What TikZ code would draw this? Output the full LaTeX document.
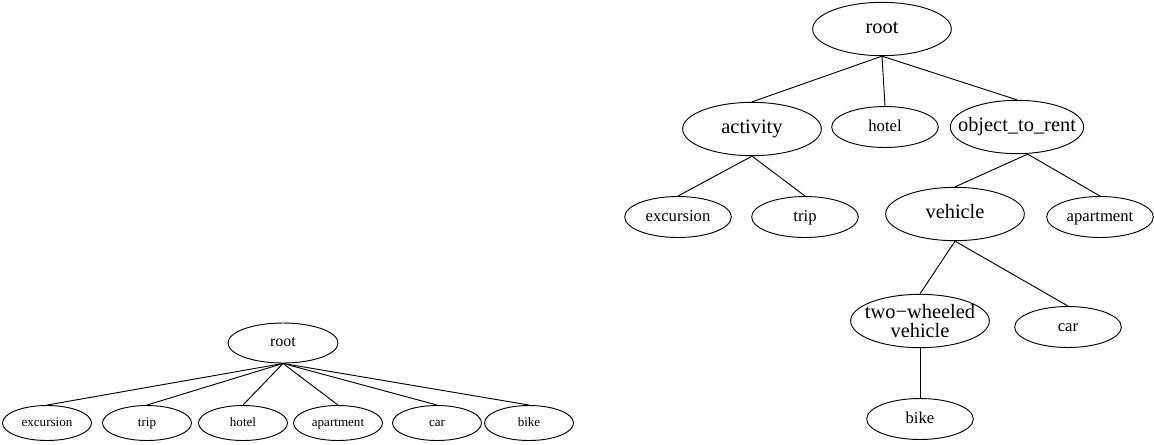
\documentclass[tikz,border=0pt]{standalone}
\usepackage{fontspec}
\setmainfont{Liberation Serif}
\usetikzlibrary{shapes.geometric}
\newcommand{\nodetext}[1]{\makebox[0pt]{\strut#1}}
\tikzset{
    concept/.style = {ellipse,
                    fill=white,
                    draw=black,
                    text=black,
                    inner sep=0pt,
                    minimum width=104pt,
                    minimum height=40pt,
                    font=\fontsize{15.3}{18}\selectfont},
    leaf/.style =   {ellipse,
                    fill=white,
                    draw=black,
                    text=black,
                    inner sep=0pt,
                    minimum width=80pt,
                    minimum height=30.75pt,
                    font=\fontsize{12.5}{15}\selectfont},
    -,
    flatroot/.style = {ellipse,
                    fill=white,
                    draw=black,
                    text=black,
                    inner sep=0pt,
                    minimum width=82.5pt,
                    minimum height=30pt,
                    font=\fontsize{12}{14}\selectfont},
    flatleaf/.style = {ellipse,
                    fill=white,
                    draw=black,
                    text=black,
                    inner sep=0pt,
                    minimum width=66.75pt,
                    minimum height=26.25pt,
                    font=\fontsize{9.8}{12}\selectfont},
    -,
    draw=black}

\begin{document}
\begin{tikzpicture}[x=0.75pt,y=-0.75pt,line width=0.7pt]
                \useasboundingbox (0,0) rectangle (1154,444);
                % taxonomy
                \node[concept]      (root)  at (882,29)     {\nodetext{root}};
                \node[concept]      (act)   at (752,129)    {\nodetext{activity}};
                \node[leaf]         (hotel) at (885,127)    {\nodetext{hotel}};
                \node[concept]      (obj)   [minimum width=100pt] at (1017,127) {\nodetext{object\_to\_rent}};
                \node[leaf]         (exc)   at (678,217)    {\nodetext{excursion}};
                \node[leaf]         (trip)  at (805,217)    {\nodetext{trip}};
                \node[concept]      (veh)   at (955,214)    {\nodetext{vehicle}};
                \node[leaf]         (apt)   at (1100,217)   {\nodetext{apartment}};
                \node[concept]      (twv)   at (920,321)    {\makebox[0pt]{\shortstack{two−wheeled\\vehicle}}};
                \node[leaf]         (car)   at (1068,327)   {\nodetext{car}};
                \node[leaf]         (bike)  at (920,419)    {\nodetext{bike}};
                \path   (root.south)    edge    (act.north)
                        (root.south)    edge    (hotel.north)
                        (root.south)    edge    (obj.north)
                        (act.south)     edge    (exc.north)
                        (act.south)     edge    (trip.north)
                        ([xshift=8pt]obj.south) edge (veh.north)
                        ([xshift=8pt]obj.south) edge (apt.north)
                        (veh.south)     edge    (twv.north)
                        (veh.south)     edge    (car.north)
                        (twv.south)     edge    (bike.north);
                % flat
                \node[flatroot]     (froot)  at (283,343)   {\nodetext{root}};
                \node[flatleaf]     (fexc)   at (47,423)    {\nodetext{excursion}};
                \node[flatleaf]     (ftrip)  at (147,423)   {\nodetext{trip}};
                \node[flatleaf]     (fhotel) at (243,423)   {\nodetext{hotel}};
                \node[flatleaf]     (fapt)   at (338,423)   {\nodetext{apartment}};
                \node[flatleaf]     (fcar)   at (437,423)   {\nodetext{car}};
                \node[flatleaf]     (fbike)  at (529,423)   {\nodetext{bike}};
                \path   (froot.south)   edge    (fexc.north)
                        (froot.south)   edge    (ftrip.north)
                        (froot.south)   edge    (fhotel.north)
                        (froot.south)   edge    (fapt.north)
                        (froot.south)   edge    (fcar.north)
                        (froot.south)   edge    (fbike.north);
        \end{tikzpicture}
\end{document}
